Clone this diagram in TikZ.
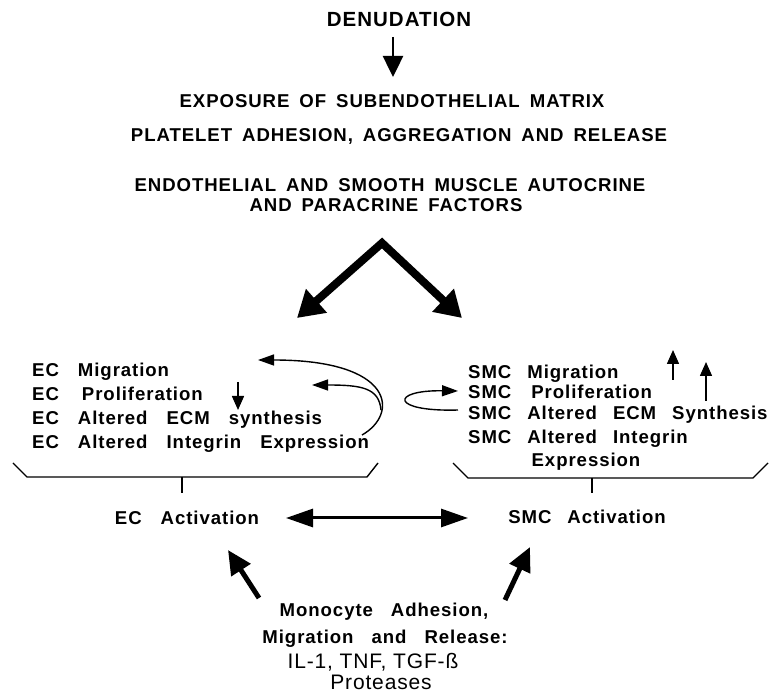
\documentclass[tikz,border=0pt]{standalone}
\usepackage{fontspec}
\setmainfont{Liberation Sans}
\newfontfamily\topf{Liberation Sans}[LetterSpace=5]
\newfontfamily\regf{Liberation Sans}[LetterSpace=4]
\newcommand\mysp[1]{\spaceskip=#1\relax}
\newcommand\topfont{\topf\bfseries\fontsize{18.6}{20}\selectfont\mysp{10pt}}
\newcommand\ecfont{\topf\bfseries\fontsize{18.6}{20}\selectfont\mysp{19pt}}
\newcommand\smcfont{\topf\bfseries\fontsize{18.6}{20}\selectfont\mysp{16pt}}
\newcommand\monofont{\topf\bfseries\fontsize{18.6}{20}\selectfont\mysp{18pt}}
\newcommand\denfont{\topf\bfseries\fontsize{20.5}{22}\selectfont}
\newcommand\regfont{\regf\fontsize{21}{23}\selectfont}
\usetikzlibrary{arrows.meta}
\begin{document}
\begin{tikzpicture}[x=1pt,y=-1pt,
  toptext/.style={anchor=base,inner sep=0pt,font=\topfont},
  ectext/.style={anchor=base west,inner sep=0pt,font=\ecfont},
  smctext/.style={anchor=base west,inner sep=0pt,font=\smcfont},
  acttext/.style={anchor=base,inner sep=0pt,font=\ecfont},
  monotext/.style={anchor=base,inner sep=0pt,font=\monofont},
  regtext/.style={anchor=base,inner sep=0pt,font=\regfont},
  bigarrow/.style={line width=8pt,line join=miter,{Triangle[length=26pt,width=30pt]}-{Triangle[length=26pt,width=30pt]}},
  medarrow/.style={line width=5pt,-{Triangle[length=24pt,width=22pt]}},
  dblarrow/.style={line width=3pt,{Triangle[length=27pt,width=18pt]}-{Triangle[length=27pt,width=18pt]}},
  toparrow/.style={line width=2.5pt,-{Triangle[length=21pt,width=20pt]}},
  smallarrow/.style={line width=1.5pt,-{Triangle[length=14pt,width=12pt]}},
  curvearrow/.style={line width=1.4pt,-{Triangle[length=16pt,width=11pt]}},
  bracket/.style={line width=1.4pt},
]
\useasboundingbox (0,0) rectangle (772,692);

% top texts
\node[toptext,font=\denfont] (den) at (399,27) {DENUDATION};
\node[toptext] (expo) at (392,108) {EXPOSURE OF SUBENDOTHELIAL MATRIX};
\node[toptext] (plat) at (399,142) {PLATELET ADHESION, AGGREGATION AND RELEASE};
\node[toptext] (endo) at (390,192) {ENDOTHELIAL AND SMOOTH MUSCLE AUTOCRINE};
\node[toptext] (para) at (386,212) {AND PARACRINE FACTORS};

\coordinate (d1) at (393,37);
\coordinate (d2) at (393,77);
\draw[toparrow] (d1) -- (d2);

% big V arrows
\coordinate (apex) at (382,243);
\coordinate (vl) at (297,318);
\coordinate (vr) at (462,318);
\draw[bigarrow] (vl) -- (apex) -- (vr);

% EC block
\node[ectext] (ec1) at (32,377) {EC Migration};
\node[ectext] (ec2) at (32,401) {EC \hspace{4pt}Proliferation};
\node[ectext] (ec3) at (32,425) {EC Altered ECM synthesis};
\node[ectext] (ec4) at (32,449) {EC Altered Integrin Expression};

\coordinate (eda) at (238,382);
\coordinate (edb) at (238,410);
\draw[smallarrow] (eda) -- (edb);

\coordinate (cs) at (362,435);
\coordinate (ct1) at (258,360);
\coordinate (cb) at (381,410);
\coordinate (ct2) at (312,385);
\draw[curvearrow] (cs) .. controls (399,414) and (395,360) .. (ct1);
\draw[curvearrow] (cb) .. controls (379,388) and (362,385) .. (ct2);

% SMC block
\node[smctext] (smc1) at (468,379) {SMC Migration};
\node[smctext] (smc2) at (468,399) {SMC \hspace{4pt}Proliferation};
\node[smctext] (smc3) at (468,420) {SMC Altered ECM Synthesis};
\node[smctext] (smc4) at (468,444) {SMC Altered Integrin};
\node[acttext] (smc5) at (586,467) {Expression};

\coordinate (su1a) at (673,380);
\coordinate (su1b) at (673,350);
\coordinate (su2a) at (706,401);
\coordinate (su2b) at (706,362);
\draw[smallarrow] (su1a) -- (su1b);
\draw[smallarrow] (su2a) -- (su2b);

\coordinate (ls) at (458,410);
\coordinate (lt) at (458,391);
\draw[curvearrow] (ls) .. controls (390,412) and (390,390) .. (lt);

% brackets
\draw[bracket] (13,463) -- (27,477) -- (367,477) -- (378,463);
\coordinate (bl) at (182,477);
\coordinate (blt) at (182,493);
\draw[bracket] (bl) -- (blt);
\draw[bracket] (453,463) -- (468,478) -- (753,478) -- (768,463);
\coordinate (br) at (592,478);
\coordinate (brt) at (592,493);
\draw[bracket] (br) -- (brt);

% activation
\node[acttext] (eca) at (187,525) {EC Activation};
\node[acttext,font=\smcfont] (smca) at (587,524) {SMC Activation};
\coordinate (da) at (286,518);
\coordinate (db) at (468,518);
\draw[dblarrow] (da) -- (db);

% monocyte
\node[monotext] (mono1) at (384,617) {Monocyte Adhesion,};
\node[monotext] (mono2) at (385,644) {Migration and Release:};
\node[regtext] (mono3) at (373,668) {IL-1, TNF, TGF-ß};
\node[regtext] (mono4) at (381,689) {Proteases};

\coordinate (la) at (259,598);
\coordinate (lb) at (228,550);
\coordinate (ra) at (505,600);
\coordinate (rb) at (530,547);
\draw[medarrow] (la) -- (lb);
\draw[medarrow] (ra) -- (rb);
\end{tikzpicture}
\end{document}
